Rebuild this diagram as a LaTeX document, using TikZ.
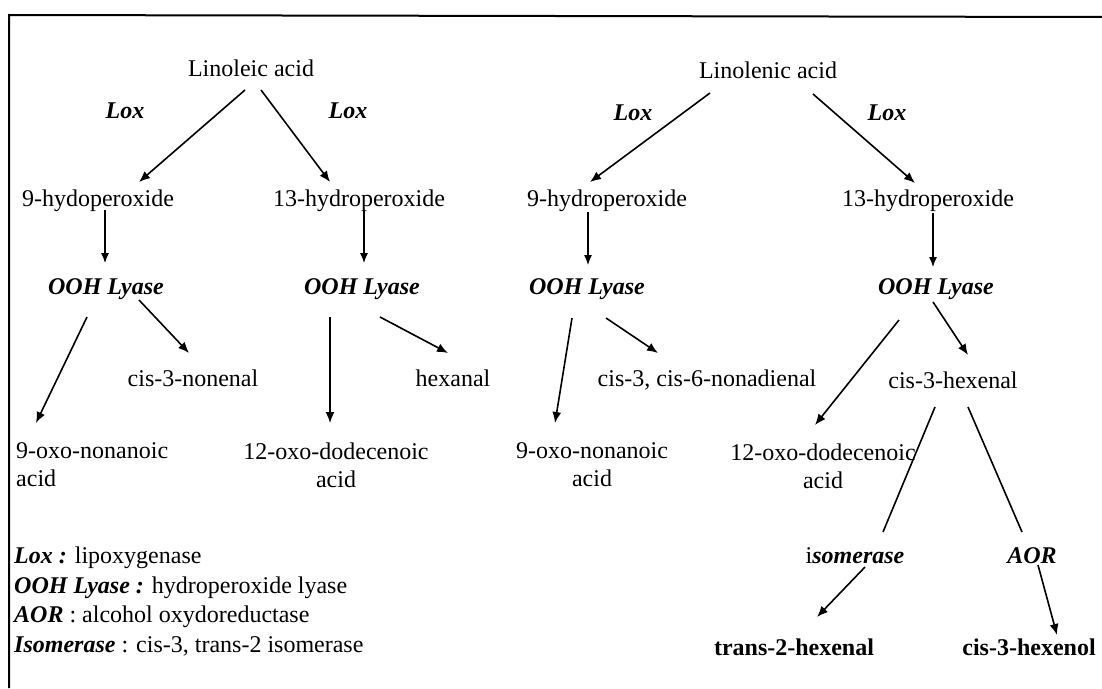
\documentclass[tikz,border=0pt]{standalone}
\usepackage{fontspec}
\setmainfont{Liberation Serif}
\usetikzlibrary{arrows.meta,calc}
\tikzset{
  lbl/.style={font=\fontsize{24}{28}\selectfont, inner sep=0pt},
  enz/.style={lbl, font=\fontsize{24}{28}\selectfont\bfseries\itshape},
  prod/.style={lbl, font=\fontsize{24}{28}\selectfont\bfseries},
  arr/.style={line width=1.6pt, -{Latex[length=11pt,width=9pt]}},
  varr/.style={line width=1.1pt, -{Latex[length=10pt,width=8pt]}},
  plain/.style={line width=1.6pt},
  frame/.style={line width=2pt}
}
\begin{document}
\begin{tikzpicture}[x=1pt,y=-1pt]
\useasboundingbox (0,0) rectangle (1102,688);
% frame (top and left only)
\coordinate (tl) at (9,15);
\coordinate (tr) at (1102,17);
\coordinate (bl) at (9,688);
\draw[frame] (tr) -- (tl) -- (bl);

% Linoleic branch
\node[lbl] (lin) at (251,68) {Linoleic acid};
\node[enz] (loxA) at (125,111) {Lox};
\node[enz] (loxB) at (348,111) {Lox};
\node[lbl] (h9a) at (98,201) {9-hydoperoxide};
\node[lbl] (h13a) at (359,201) {13-hydroperoxide};
\node[enz] (oohA) at (106,289) {OOH Lyase};
\node[enz] (oohB) at (362,289) {OOH Lyase};
\node[lbl] (non) at (193,378) {cis-3-nonenal};
\node[lbl] (hex) at (453,378) {hexanal};
\node[lbl, align=left, anchor=west] (oxoA) at (16,465) {9-oxo-nonanoic\\acid};
\node[lbl, align=center] (dodA) at (336,465) {12-oxo-dodecenoic\\acid};

% Linolenic branch
\node[lbl] (lnl) at (768,70) {Linolenic acid};
\node[enz] (loxC) at (633,113) {Lox};
\node[enz] (loxD) at (887,113) {Lox};
\node[lbl] (h9b) at (607,201) {9-hydroperoxide};
\node[lbl] (h13b) at (928,201) {13-hydroperoxide};
\node[enz] (oohC) at (587,289) {OOH Lyase};
\node[enz] (oohD) at (936,289) {OOH Lyase};
\node[lbl] (dien) at (707,380) {cis-3, cis-6-nonadienal};
\node[lbl] (hexl) at (953,380) {cis-3-hexenal};
\node[lbl, align=center] (oxoB) at (592,465) {9-oxo-nonanoic\\acid};
\node[lbl, align=center] (dodB) at (823,466) {12-oxo-dodecenoic\\acid};
\node[lbl] (iso) at (855,556) {i\textbf{\textit{somerase}}};
\node[enz] (aor) at (1032,556) {AOR};
\node[prod] (t2h) at (794,647) {trans-2-hexenal};
\node[prod] (c3h) at (1029,647) {cis-3-hexenol};

% legend
\node[lbl, anchor=base west] (leg1) at (14,563) {\textbf{\textit{Lox :}} lipoxygenase};
\node[lbl, anchor=base west] (leg2) at (14,593) {\textbf{\textit{OOH Lyase :}} hydroperoxide lyase};
\node[lbl, anchor=base west] (leg3) at (14,622) {\textbf{\textit{AOR}} : alcohol oxydoreductase};
\node[lbl, anchor=base west] (leg4) at (14,652) {\textbf{\textit{Isomerase}} : cis-3, trans-2 isomerase};

% connectors, Linoleic
\draw[arr] ($(lin)+(-6,22)$) -- ($(h9a)+(41,-19)$);
\draw[arr] ($(lin)+(10,22)$) -- ($(h13a)+(-29,-19)$);
\draw[varr] ($(h9a)+(7,9)$) -- ($(oohA)+(-1,-26)$);
\draw[varr] ($(h13a)+(5,9)$) -- ($(oohB)+(2,-26)$);
\draw[arr] ($(oohA)+(-19,28)$) -- ($(oxoA.west)+(20,-42)$);
\draw[arr] ($(oohA)+(33,11)$) -- ($(non)+(-4,-25)$);
\draw[arr] ($(oohB)+(-32,28)$) -- ($(dodA)+(-6,-42)$);
\draw[arr] ($(oohB)+(18,28)$) -- ($(hex)+(-5,-25)$);

% connectors, Linolenic
\draw[arr] ($(lnl)+(-58,23)$) -- ($(h9b)+(-17,-19)$);
\draw[arr] ($(lnl)+(45,24)$) -- ($(h13b)+(-13,-18)$);
\draw[varr] ($(h9b)+(-19,11)$) -- ($(oohC)+(1,-24)$);
\draw[varr] ($(h13b)+(5,12)$) -- ($(oohD)+(-3,-22)$);
\draw[arr] ($(oohC)+(-15,29)$) -- ($(oxoB)+(-37,-42)$);
\draw[arr] ($(oohC)+(19,29)$) -- ($(dien)+(-49,-27)$);
\draw[arr] ($(oohD)+(-37,31)$) -- ($(dodB)+(-8,-41)$);
\draw[arr] ($(oohD)+(-3,13)$) -- ($(hexl)+(15,-25)$);
\draw[plain] ($(hexl)+(-18,27)$) -- ($(iso)+(28,-24)$);
\draw[plain] ($(hexl)+(15,27)$) -- ($(aor)+(-10,-24)$);
\draw[arr] ($(iso)+(10,11)$) -- ($(t2h)+(23,-30)$);
\draw[arr] ($(aor)+(6,9)$) -- ($(c3h)+(28,-12)$);
\end{tikzpicture}
\end{document}
